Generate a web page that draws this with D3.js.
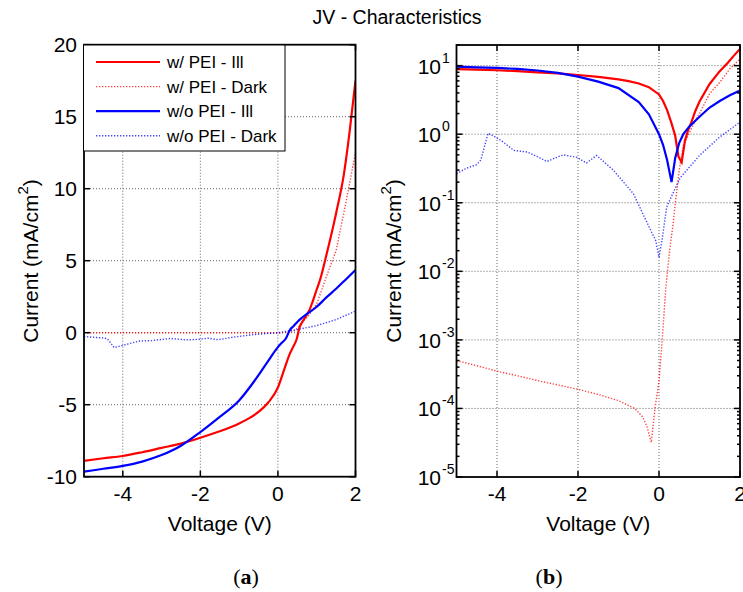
<!DOCTYPE html>
<html>
<head>
<meta charset="utf-8">
<script src="https://cdn.jsdelivr.net/npm/d3@7.9.0/dist/d3.min.js"></script>
<style>
  body { margin: 0; background: #fff; }
  svg text { font-family: 'Liberation Sans', Arial, sans-serif; fill: #000; }
</style>
</head>
<body>
<svg id="chart" width="743" height="592"></svg>
<script>
// Data (voltage in V, current density in mA/cm2, signed)
const vPeiIll = [-5, -4.5, -4, -3.5, -3, -2.5, -2, -1.5, -1, -0.75, -0.5, -0.25, 0, 0.1, 0.2, 0.3, 0.4, 0.48, 0.56, 0.64, 0.72, 0.8, 0.9, 1.0, 1.1, 1.25, 1.5, 1.7, 1.85, 2.0];
const jPeiIll = [-8.9, -8.72, -8.56, -8.3, -8.0, -7.7, -7.3, -6.85, -6.3, -5.95, -5.5, -4.85, -3.8, -3.05, -2.25, -1.5, -0.95, -0.47, 0.39, 0.8, 1.15, 1.5, 2.2, 3.0, 3.8, 5.4, 8.3, 11.0, 14.0, 17.5];

const vPeiDark = [-5, -4.5, -4, -3.5, -3, -2.5, -2, -1.5, -1, -0.6, -0.4, -0.3, -0.19, -0.1, 0, 0.08, 0.16, 0.26, 0.33, 0.4, 0.5, 0.6, 0.75, 0.9, 1.0, 1.25, 1.5, 1.75, 2.0];
const jPeiDark = [-5e-4, -4.2e-4, -3.5e-4, -3e-4, -2.55e-4, -2.2e-4, -1.9e-4, -1.6e-4, -1.3e-4, -1.0e-4, -7.5e-5, -5.5e-5, -3.2e-5, 1e-4, 2.5e-4, 1e-3, 5e-3, 0.02, 0.04, 0.095, 0.3, 0.68, 1.05, 1.6, 2.0, 3.9, 5.7, 9.0, 12.5];

const vNoPeiIll = [-5, -4.5, -4, -3.5, -3, -2.5, -2, -1.5, -1, -0.5, -0.25, 0, 0.1, 0.2, 0.31, 0.4, 0.5, 0.6, 0.75, 1.0, 1.25, 1.5, 1.75, 2.0];
const jNoPeiIll = [-9.65, -9.45, -9.25, -8.95, -8.5, -7.85, -6.9, -5.85, -4.7, -2.95, -1.95, -1.0, -0.7, -0.42, 0.2, 0.45, 0.75, 1.0, 1.3, 1.8, 2.45, 3.05, 3.7, 4.35];

const vNoPeiDark = [-5, -4.75, -4.5, -4.4, -4.22, -4.1, -3.9, -3.58, -3.25, -3.0, -2.77, -2.37, -2.03, -1.79, -1.54, -1.13, -0.63, -0.25, -0.08, 0, 0.08, 0.19, 0.52, 1.0, 1.5, 2.0];
const jNoPeiDark = [-0.265, -0.32, -0.36, -0.42, -1.03, -0.95, -0.81, -0.58, -0.55, -0.47, -0.40, -0.50, -0.46, -0.38, -0.49, -0.30, -0.135, -0.045, -0.028, -0.016, 0.03, 0.087, 0.23, 0.49, 0.91, 1.5];

const seriesNames = ['w/ PEI - Ill', 'w/ PEI - Dark', 'w/o PEI - Ill', 'w/o PEI - Dark'];

// Tick labels
const xTicks = [-4, -2, 0, 2];
const yTicksLin = [-10, -5, 0, 5, 10, 15, 20];
const yTicksLog = [-5, -4, -3, -2, -1, 0, 1];

const series = [
  { name: seriesNames[0], v: vPeiIll, j: jPeiIll, color: '#ff0000', dotted: false },
  { name: seriesNames[1], v: vPeiDark, j: jPeiDark, color: '#ff0000', dotted: true },
  { name: seriesNames[2], v: vNoPeiIll, j: jNoPeiIll, color: '#0000ff', dotted: false },
  { name: seriesNames[3], v: vNoPeiDark, j: jNoPeiDark, color: '#0000ff', dotted: true },
];

const svg = d3.select('#chart');

// Style helpers
function styleLine(sel, s) {
  sel.attr('fill', 'none')
    .attr('stroke', s.color)
    .attr('stroke-width', s.dotted ? 1.4 : 2.2)
    .attr('stroke-dasharray', s.dotted ? '1.3,1.7' : null)
    .attr('stroke-opacity', s.dotted ? 0.75 : 1);
}

function gridLines(g, x, y, xs, ys) {
  const [x0, x1] = x.range();
  const [y0, y1] = y.range();
  xs.forEach((t) => {
    g.append('line')
      .attr('x1', x(t)).attr('x2', x(t)).attr('y1', y0).attr('y2', y1)
      .attr('stroke', '#555').attr('stroke-width', 0.9).attr('stroke-dasharray', '1,2');
  });
  ys.forEach((t) => {
    g.append('line')
      .attr('x1', x0).attr('x2', x1).attr('y1', y(t)).attr('y2', y(t))
      .attr('stroke', '#555').attr('stroke-width', 0.9).attr('stroke-dasharray', '1,2');
  });
}

function ticksInward(g, x, y, xs, ys, len) {
  const [x0, x1] = x.range();
  const [y0, y1] = y.range();
  xs.forEach((t) => {
    g.append('line').attr('x1', x(t)).attr('x2', x(t)).attr('y1', y0).attr('y2', y0 - len).attr('stroke', '#000').attr('stroke-width', 1.5);
    g.append('line').attr('x1', x(t)).attr('x2', x(t)).attr('y1', y1).attr('y2', y1 + len).attr('stroke', '#000').attr('stroke-width', 1.5);
  });
  ys.forEach((t) => {
    g.append('line').attr('x1', x0).attr('x2', x0 + len).attr('y1', y(t)).attr('y2', y(t)).attr('stroke', '#000').attr('stroke-width', 1.5);
    g.append('line').attr('x1', x1).attr('x2', x1 - len).attr('y1', y(t)).attr('y2', y(t)).attr('stroke', '#000').attr('stroke-width', 1.5);
  });
}

function frame(g, x, y) {
  const [x0, x1] = x.range();
  const [y0, y1] = y.range();
  g.append('rect')
    .attr('x', x0).attr('y', y1).attr('width', x1 - x0).attr('height', y0 - y1)
    .attr('fill', 'none').attr('stroke', '#000').attr('stroke-width', 1.8);
}

function yLabel(g, xPos, yMid) {
  const t = g.append('text')
    .attr('transform', `translate(${xPos},${yMid}) rotate(-90)`)
    .attr('text-anchor', 'middle')
    .attr('font-size', 21);
  t.append('tspan').text('Current (mA/cm');
  t.append('tspan').attr('font-size', 15).attr('dy', -10).text('2');
  t.append('tspan').attr('dy', 10).text(')');
}

// ---------- (a) linear plot ----------
const xA = d3.scaleLinear().domain([-5, 2]).range([84, 355.5]);
const yA = d3.scaleLinear().domain([-10, 20]).range([476.7, 44.7]);
const gA = svg.append('g');

svg.append('clipPath').attr('id', 'clipA').append('rect')
  .attr('x', 84).attr('y', 44.7).attr('width', 355.5 - 84).attr('height', 476.7 - 44.7);

gridLines(gA, xA, yA, xTicks.slice(0, 3), yTicksLin.slice(1, 6));

const lineA = d3.line().x((d) => xA(d[0])).y((d) => yA(d[1]));
const smoothA = d3.line().curve(d3.curveMonotoneX).x((d) => xA(d[0])).y((d) => yA(d[1]));
series.forEach((s) => {
  gA.append('path')
    .attr('clip-path', 'url(#clipA)')
    .attr('d', (s.dotted ? lineA : smoothA)(s.v.map((v, i) => [v, s.j[i]])))
    .call(styleLine, s);
});

ticksInward(gA, xA, yA, xTicks, yTicksLin, 6);
frame(gA, xA, yA);

yTicksLin.forEach((t) => {
  gA.append('text').attr('x', 77).attr('y', yA(t) + 7.5)
    .attr('text-anchor', 'end').attr('font-size', 21).text(t);
});
xTicks.forEach((t) => {
  gA.append('text').attr('x', xA(t)).attr('y', 501)
    .attr('text-anchor', 'middle').attr('font-size', 21).text(t);
});
gA.append('text').attr('x', xA.range()[0] + (xA.range()[1] - xA.range()[0]) / 2).attr('y', 531)
  .attr('text-anchor', 'middle').attr('font-size', 21).text('Voltage (V)');
yLabel(gA, 38, 261);

// legend
const legend = gA.append('g');
legend.append('rect').attr('x', 83.5).attr('y', 45).attr('width', 201.5).attr('height', 106)
  .attr('fill', '#fff').attr('stroke', '#000').attr('stroke-width', 1);
series.forEach((s, i) => {
  const yy = 62 + i * 24.6;
  legend.append('line').attr('x1', 96).attr('x2', 160).attr('y1', yy).attr('y2', yy).call(styleLine, s);
  legend.append('text').attr('x', 167).attr('y', yy + 6).attr('font-size', 17).text(s.name);
});

// ---------- (b) log plot ----------
const xB = d3.scaleLinear().domain([-5, 2]).range([456.5, 740]);
const yB = d3.scaleLog().domain([1e-5, 20]).range([477, 45]);
const gB = svg.append('g');

svg.append('clipPath').attr('id', 'clipB').append('rect')
  .attr('x', 456.5).attr('y', 45).attr('width', 740 - 456.5).attr('height', 477 - 45);

const decades = yTicksLog.map((e) => Math.pow(10, e));
gridLines(gB, xB, yB, xTicks.slice(0, 3), decades.slice(1));

const lineB = d3.line().x((d) => xB(d[0])).y((d) => yB(d[1]));
series.forEach((s) => {
  gB.append('path')
    .attr('clip-path', 'url(#clipB)')
    .attr('d', lineB(s.v.map((v, i) => [v, Math.abs(s.j[i])])))
    .call(styleLine, s);
});

ticksInward(gB, xB, yB, xTicks, decades, 6);
// minor log ticks
const minor = [];
yTicksLog.forEach((e) => {
  for (let m = 2; m <= 9; m++) {
    const val = m * Math.pow(10, e);
    if (val <= 20) minor.push(val);
  }
});
ticksInward(gB, xB, yB, [], minor, 3);
frame(gB, xB, yB);

yTicksLog.forEach((e) => {
  gB.append('text').attr('x', 441).attr('y', yB(Math.pow(10, e)) + 8)
    .attr('text-anchor', 'end').attr('font-size', 21).text('10');
  gB.append('text').attr('x', 442).attr('y', yB(Math.pow(10, e)) - 3)
    .attr('font-size', 14).text(e < 0 ? '-' + Math.abs(e) : e);
});
xTicks.forEach((t) => {
  gB.append('text').attr('x', xB(t)).attr('y', 501)
    .attr('text-anchor', 'middle').attr('font-size', 21).text(t);
});
gB.append('text').attr('x', xB.range()[0] + (xB.range()[1] - xB.range()[0]) / 2).attr('y', 531)
  .attr('text-anchor', 'middle').attr('font-size', 21).text('Voltage (V)');
yLabel(gB, 401, 261);

// title and panel captions
svg.append('text').attr('x', 397).attr('y', 24).attr('text-anchor', 'middle')
  .attr('font-size', 19.5).text('JV - Characteristics');

['a', 'b'].forEach((c, i) => {
  const t = svg.append('text').attr('x', [246, 549][i]).attr('y', 584)
    .attr('text-anchor', 'middle').attr('font-size', 22)
    .style('font-family', "'Liberation Serif', 'DejaVu Serif', serif");
  t.append('tspan').text('(');
  t.append('tspan').attr('font-weight', 'bold').text(c);
  t.append('tspan').text(')');
});
</script>
</body>
</html>
